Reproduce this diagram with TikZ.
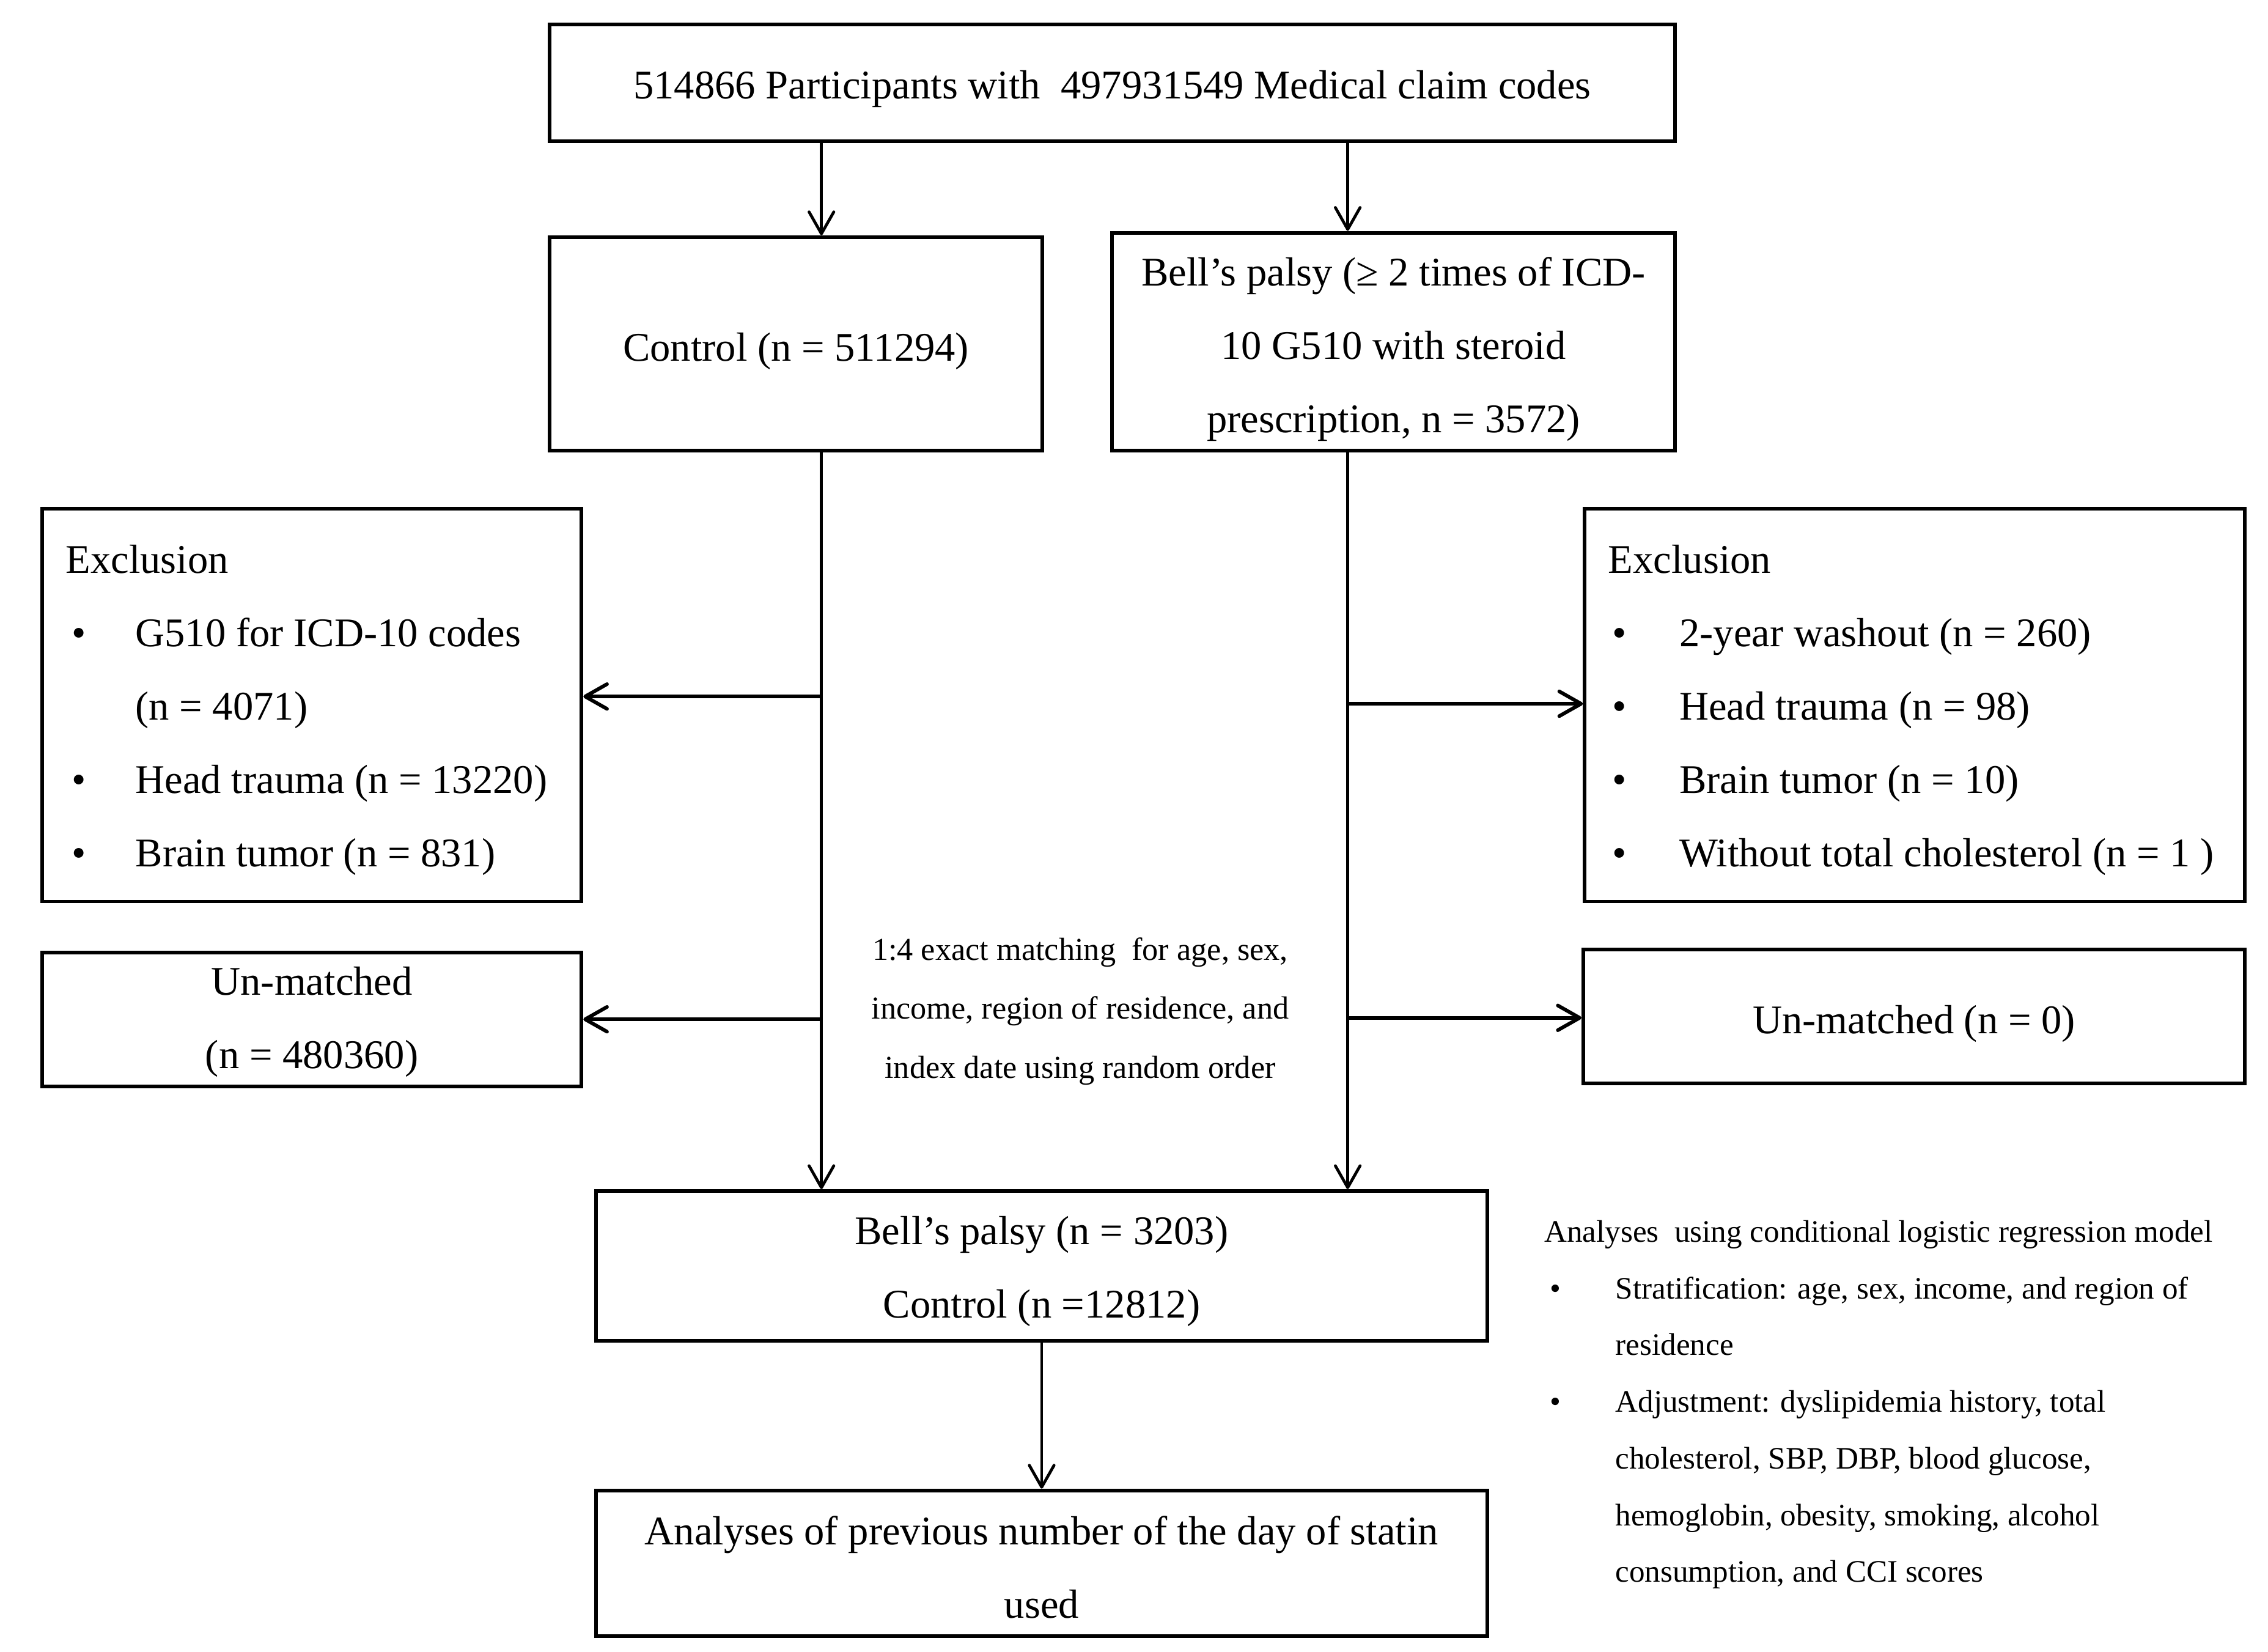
\documentclass[tikz,border=0pt]{standalone}
\usepackage{fontspec}
\setmainfont{Liberation Serif}
\usetikzlibrary{arrows.meta}
\newcommand\fa{\fontsize{28}{50.5}\selectfont}
\newcommand\fb{\fontsize{21.5}{39}\selectfont}
\newcommand\fc{\fontsize{22}{40.5}\selectfont}
\newcommand\bulA{\hspace*{4pt}\makebox[44pt][l]{•}}
\newcommand\bulB{\hspace*{3pt}\makebox[46pt][l]{•}}
\newcommand\bulC{\hspace*{4pt}\makebox[45pt][l]{•}}
\begin{document}
\begin{tikzpicture}[x=1pt,y=-1pt,
  box/.style={draw, line width=2.5pt, inner sep=0pt},
  btxt/.style={inner sep=0pt, align=center, font=\fa},
  txt/.style={inner sep=0pt, align=left},
  tip/.style={-{Straight Barb[length=15pt,width=17pt,round]}},
  varr/.style={line width=2pt, tip},
  harr/.style={line width=2.5pt, tip}]
\useasboundingbox (0,0) rectangle (1560,1136);
\fill[white] (0,0) rectangle (1560,1136);

% boxes
\node[box, minimum width=774pt, minimum height=80pt] (top) at (765,57) {};
\node[box, minimum width=339pt, minimum height=147pt] (ctrl) at (547.5,236.5) {};
\node[box, minimum width=387pt, minimum height=150pt] (bell) at (958.5,235) {};
\node[box, minimum width=371pt, minimum height=270pt] (exl) at (214.5,485) {};
\node[box, minimum width=454pt, minimum height=270pt] (exr) at (1317,485) {};
\node[box, minimum width=371pt, minimum height=92pt] (unl) at (214.5,701) {};
\node[box, minimum width=455pt, minimum height=92pt] (unr) at (1316.5,699) {};
\node[box, minimum width=613pt, minimum height=103pt] (merge) at (716.5,870.5) {};
\node[box, minimum width=613pt, minimum height=100pt] (final) at (716.5,1075) {};

% box texts
\node[btxt] (toptext) at ([yshift=-4pt]top.center)
  {514866 Participants with\hspace{0.25em} 497931549 Medical claim codes};
\node[btxt] (ctrltext) at ([yshift=-5pt]ctrl.center) {Control (n = 511294)};
\node[btxt] (belltext) at ([yshift=-5pt]bell.center)
  {Bell’s palsy (≥ 2 times of ICD-\\10 G510 with steroid\\prescription, n = 3572)};
\node[btxt] (unltext) at ([yshift=-2pt]unl.center) {Un-matched\\(n = 480360)};
\node[btxt] (unrtext) at ([yshift=-5pt]unr.center) {Un-matched (n = 0)};
\node[btxt] (mergetext) at ([yshift=-4pt]merge.center)
  {Bell’s palsy (n = 3203)\\Control (n =12812)};
\node[btxt] (finaltext) at ([yshift=-3pt]final.center)
  {Analyses of previous number of the day of statin\\used};

% texts in exclusion boxes
\node[txt, anchor=west, font=\fa] (exltext) at (45,488.5)
  {Exclusion\\
   \bulA G510 for ICD-10 codes\\
   \hspace*{48pt}(n = 4071)\\
   \bulA Head trauma (n = 13220)\\
   \bulA Brain tumor (n = 831)};
\node[txt, anchor=west, font=\fa] (exrtext) at (1106,488.5)
  {Exclusion\\
   \bulB 2-year washout (n = 260)\\
   \bulB Head trauma (n = 98)\\
   \bulB Brain tumor (n = 10)\\
   \bulB Without total cholesterol (n = 1 )};

% matching text
\node[inner sep=0pt, align=center, font=\fc] (match) at (743,695.5)
  {1:4 exact matching\hspace{0.25em} for age, sex,\\
   income, region of residence, and\\
   index date using random order};

% analyses text
\node[txt, anchor=west, font=\fb] (ana) at (1062,966)
  {Analyses\hspace{0.25em} using conditional logistic regression model\\
   \bulC Stratification: age, sex, income, and region of\\
   \hspace*{49pt}residence\\
   \bulC Adjustment: dyslipidemia history, total\\
   \hspace*{49pt}cholesterol, SBP, DBP, blood glucose,\\
   \hspace*{49pt}hemoglobin, obesity, smoking, alcohol\\
   \hspace*{49pt}consumption, and CCI scores};

% connector columns
\coordinate (colL) at (565,0);
\coordinate (colR) at (927,0);
\coordinate (hl1) at (565,479);
\coordinate (hl2) at (565,701);
\coordinate (hr1) at (927,484);
\coordinate (hr2) at (927,700);

\draw[varr] (top.south -| colL) -- (ctrl.north -| colL);
\draw[varr] (top.south -| colR) -- (bell.north -| colR);
\draw[varr] (ctrl.south -| colL) -- (merge.north -| colL);
\draw[varr] (bell.south -| colR) -- (merge.north -| colR);
\draw[harr] (hl1) -- (exl.east |- hl1);
\draw[harr] (hl2) -- (unl.east |- hl2);
\draw[harr] (hr1) -- (exr.west |- hr1);
\draw[harr] (hr2) -- (unr.west |- hr2);
\draw[varr] (merge) -- (final);
\end{tikzpicture}
\end{document}
